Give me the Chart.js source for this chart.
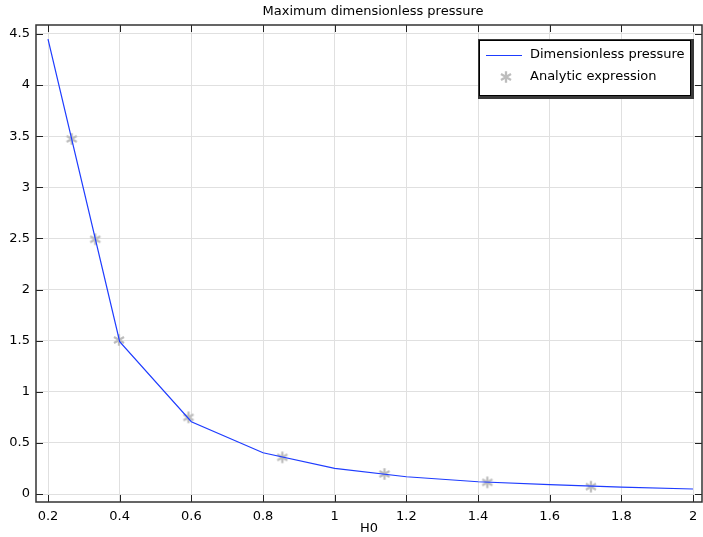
<!DOCTYPE html>
<html>
<head>
<meta charset="utf-8">
<script src="https://cdn.jsdelivr.net/npm/chart.js@4.4.1/dist/chart.umd.min.js"></script>
<style>
  html, body { margin: 0; padding: 0; background: #fff; }
  #wrap { width: 703px; height: 537px; }
</style>
</head>
<body>
<div id="wrap"><canvas id="chart"></canvas></div>
<script>
// Dimensionless pressure (solid line)
var lineX = [0.2, 0.4, 0.6, 0.8, 1.0, 1.2, 1.4, 1.6, 1.8, 2.0];
var lineY = [4.45, 1.49, 0.707, 0.404, 0.251, 0.169, 0.120, 0.091, 0.068, 0.049];

// Analytic expression (star markers)
var starX = [0.266, 0.332, 0.398, 0.592, 0.854, 1.139, 1.426, 1.715];
var starY = [3.474, 2.492, 1.507, 0.750, 0.359, 0.196, 0.114, 0.072];

var xTicks = [0.2, 0.4, 0.6, 0.8, 1, 1.2, 1.4, 1.6, 1.8, 2];
var yTicks = [0, 0.5, 1, 1.5, 2, 2.5, 3, 3.5, 4, 4.5];

var TITLE = 'Maximum dimensionless pressure';
var FONT = 'DejaVu Sans';
var STAR_COLOR = '#bdbdbd';

function toPoints(xs, ys) {
  return xs.map(function (x, i) { return { x: x, y: ys[i] }; });
}

// six-armed asterisk used as point style
function makeStar() {
  var c = document.createElement('canvas');
  c.width = 14; c.height = 14;
  var g = c.getContext('2d');
  g.strokeStyle = STAR_COLOR;
  g.lineWidth = 2.3;
  g.beginPath();
  for (var k = 0; k < 3; k++) {
    var ang = Math.PI / 2 + k * Math.PI / 3;
    var dx = Math.cos(ang) * 5.8, dy = Math.sin(ang) * 5.8;
    g.moveTo(7 - dx, 7 - dy); g.lineTo(7 + dx, 7 + dy);
  }
  g.stroke();
  return c;
}
var starImg = makeStar();

// title over the plot, frame, inward ticks and the boxed legend
var framePlugin = {
  id: 'frame',
  afterDraw: function (chart) {
    var ctx = chart.ctx, a = chart.chartArea;
    var xs = chart.scales.x, ys = chart.scales.y;
    ctx.save();
    ctx.font = '13px "' + FONT + '"';
    ctx.fillStyle = '#000';
    ctx.textAlign = 'center';
    ctx.textBaseline = 'middle';
    ctx.fillText(TITLE, (a.left + a.right) / 2 + 4, 11.5);

    ctx.strokeStyle = '#222';
    ctx.lineWidth = 1;
    ctx.beginPath();
    xTicks.forEach(function (v) {
      var px = Math.round(xs.getPixelForValue(v)) + 0.5;
      ctx.moveTo(px, a.bottom); ctx.lineTo(px, a.bottom - 7);
      ctx.moveTo(px, a.top); ctx.lineTo(px, a.top + 7);
    });
    yTicks.forEach(function (v) {
      var py = Math.round(ys.getPixelForValue(v)) + 0.5;
      ctx.moveTo(a.left, py); ctx.lineTo(a.left + 7, py);
      ctx.moveTo(a.right, py); ctx.lineTo(a.right - 7, py);
    });
    ctx.stroke();
    ctx.lineWidth = 1.5;
    ctx.strokeStyle = '#333';
    ctx.strokeRect(a.left, a.top, a.right - a.left, a.bottom - a.top);

    // legend
    var lx = 479, ly = 40, lw = 212, lh = 56;
    ctx.fillStyle = '#3a3a3a';
    ctx.fillRect(lx - 1, ly - 1, lw + 4, lh + 4);
    ctx.fillStyle = '#fff';
    ctx.fillRect(lx + 1, ly + 1, lw - 2, lh - 2);
    ctx.lineWidth = 1;
    ctx.strokeStyle = '#000';
    ctx.strokeRect(lx + 0.5, ly + 0.5, lw - 1, lh - 1);

    var ds = chart.data.datasets;
    ctx.textAlign = 'left';
    ctx.fillStyle = '#000';
    ctx.strokeStyle = ds[0].borderColor;
    ctx.lineWidth = 1.2;
    ctx.beginPath();
    ctx.moveTo(lx + 7, ly + 15.5); ctx.lineTo(lx + 43, ly + 15.5);
    ctx.stroke();
    ctx.fillText(ds[0].label, lx + 51, ly + 15);
    ctx.drawImage(starImg, lx + 27 - 7, ly + 37 - 7);
    ctx.fillText(ds[1].label, lx + 51, ly + 37);
    ctx.restore();
  }
};

var ctx = document.getElementById('chart').getContext('2d');
var chart = new Chart(ctx, {
  type: 'scatter',
  data: {
    datasets: [{
      label: 'Dimensionless pressure',
      data: toPoints(lineX, lineY),
      showLine: true,
      borderColor: '#1e3cff',
      borderWidth: 1.2,
      pointRadius: 0,
      tension: 0
    }, {
      label: 'Analytic expression',
      data: toPoints(starX, starY),
      showLine: false,
      pointStyle: starImg,
      pointRadius: 6,
      borderColor: STAR_COLOR,
      backgroundColor: STAR_COLOR
    }]
  },
  plugins: [framePlugin],
  options: {
    responsive: true,
    maintainAspectRatio: false,
    animation: false,
    layout: { autoPadding: false, padding: { left: 0, right: 1, top: 25, bottom: 0 } },
    plugins: {
      legend: { display: false },
      tooltip: { enabled: false },
      title: { display: false }
    },
    scales: {
      x: {
        type: 'linear',
        min: 0.1665,
        max: 2.025,
        afterBuildTicks: function (s) { s.ticks = xTicks.map(function (v) { return { value: v }; }); },
        afterFit: function (s) { s.height = 35; s.paddingLeft = 0; s.paddingRight = 0; },
        grid: { color: '#e0e0e0', drawTicks: false },
        border: { display: false },
        ticks: {
          color: '#000', padding: 7, maxRotation: 0, autoSkip: false,
          font: { family: FONT, size: 13 },
          callback: function (v) { return String(v); }
        },
        title: {
          display: true, text: 'H0', color: '#000',
          font: { family: FONT, size: 13 },
          padding: { top: 0, bottom: 1 }
        }
      },
      y: {
        type: 'linear',
        min: -0.078,
        max: 4.588,
        afterBuildTicks: function (s) { s.ticks = yTicks.map(function (v) { return { value: v }; }); },
        afterFit: function (s) { s.width = 36; s.paddingTop = 0; s.paddingBottom = 0; },
        grid: { color: '#e0e0e0', drawTicks: false },
        border: { display: false },
        ticks: {
          color: '#000', padding: 6, autoSkip: false,
          font: { family: FONT, size: 13 },
          callback: function (v) { return String(v); }
        }
      }
    }
  }
});
</script>
</body>
</html>
